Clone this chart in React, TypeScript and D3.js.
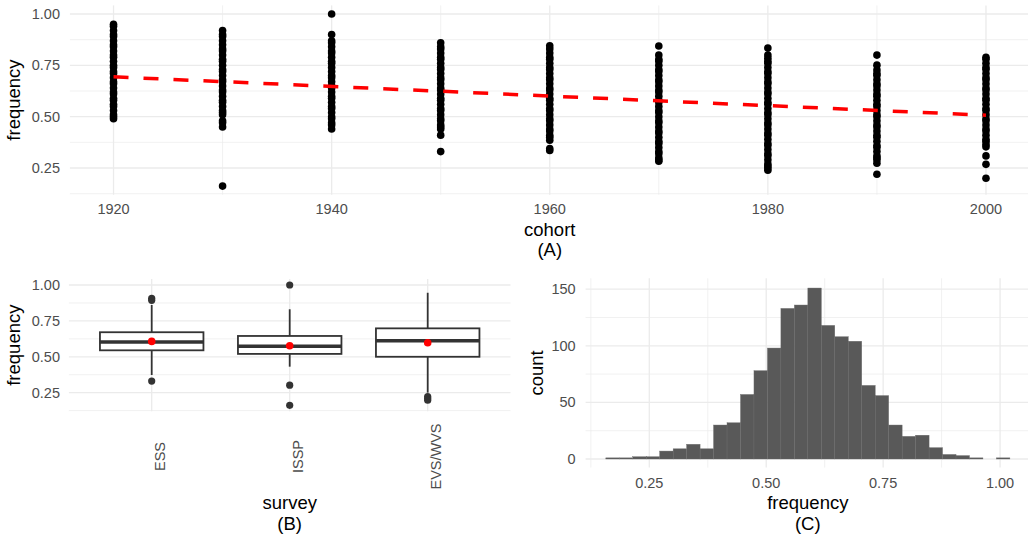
import React from 'react';
import * as d3 from 'd3';

// ---- Panel A: frequency by birth cohort ----
const cohorts = [1920, 1930, 1940, 1950, 1960, 1970, 1980, 1990, 2000];
const c1920 = [0.95, 0.94, 0.92, 0.90, 0.89, 0.87, 0.85, 0.84, 0.82, 0.80, 0.79, 0.77, 0.75, 0.74, 0.72, 0.71, 0.69, 0.67, 0.66, 0.64, 0.62, 0.61, 0.59, 0.58, 0.56, 0.55, 0.53, 0.51, 0.50, 0.49];
const c1930 = [0.92, 0.90, 0.89, 0.87, 0.85, 0.83, 0.82, 0.80, 0.78, 0.77, 0.75, 0.73, 0.72, 0.70, 0.68, 0.67, 0.65, 0.63, 0.62, 0.60, 0.58, 0.57, 0.55, 0.53, 0.52, 0.51, 0.48, 0.47, 0.45, 0.162];
const c1940 = [1.00, 0.90, 0.87, 0.86, 0.84, 0.82, 0.81, 0.79, 0.77, 0.76, 0.74, 0.72, 0.70, 0.69, 0.67, 0.65, 0.64, 0.62, 0.60, 0.59, 0.57, 0.55, 0.54, 0.52, 0.50, 0.49, 0.47, 0.46, 0.44];
const c1950 = [0.86, 0.84, 0.83, 0.81, 0.79, 0.78, 0.76, 0.74, 0.73, 0.71, 0.69, 0.68, 0.66, 0.64, 0.63, 0.61, 0.59, 0.58, 0.56, 0.54, 0.53, 0.51, 0.49, 0.48, 0.46, 0.45, 0.44, 0.41, 0.33];
const c1960 = [0.845, 0.83, 0.81, 0.79, 0.78, 0.76, 0.74, 0.73, 0.71, 0.69, 0.68, 0.66, 0.64, 0.63, 0.61, 0.59, 0.58, 0.56, 0.54, 0.53, 0.51, 0.49, 0.48, 0.46, 0.44, 0.43, 0.41, 0.40, 0.385, 0.345, 0.335];
const c1970 = [0.844, 0.80, 0.78, 0.77, 0.75, 0.73, 0.72, 0.70, 0.68, 0.67, 0.65, 0.63, 0.62, 0.60, 0.58, 0.57, 0.55, 0.53, 0.52, 0.50, 0.48, 0.47, 0.45, 0.43, 0.42, 0.40, 0.38, 0.37, 0.35, 0.33, 0.32, 0.30, 0.29, 0.283];
const c1980 = [0.834, 0.80, 0.785, 0.77, 0.76, 0.74, 0.72, 0.71, 0.69, 0.67, 0.66, 0.64, 0.62, 0.61, 0.59, 0.57, 0.56, 0.54, 0.52, 0.51, 0.49, 0.47, 0.46, 0.44, 0.42, 0.41, 0.39, 0.37, 0.36, 0.34, 0.32, 0.31, 0.29, 0.27, 0.26, 0.25, 0.239];
const c1990 = [0.80, 0.751, 0.727, 0.71, 0.70, 0.68, 0.66, 0.65, 0.63, 0.61, 0.60, 0.58, 0.56, 0.55, 0.53, 0.51, 0.50, 0.48, 0.46, 0.45, 0.43, 0.41, 0.40, 0.38, 0.36, 0.35, 0.33, 0.31, 0.30, 0.29, 0.273, 0.22];
const c2000 = [0.789, 0.78, 0.76, 0.74, 0.73, 0.71, 0.69, 0.68, 0.66, 0.64, 0.63, 0.61, 0.59, 0.58, 0.56, 0.54, 0.53, 0.51, 0.49, 0.48, 0.46, 0.44, 0.43, 0.41, 0.39, 0.38, 0.365, 0.353, 0.309, 0.268, 0.20];
const cohortValues = [c1920, c1930, c1940, c1950, c1960, c1970, c1980, c1990, c2000];

// linear fit through the cohort means
const trendCohorts = [1920, 2000];
const trendValues = [0.694, 0.507];

const cohortTicks = [1920, 1940, 1960, 1980, 2000];
const cohortMinorTicks = [1930, 1950, 1970, 1990];
const freqTicks = [0.25, 0.5, 0.75, 1.0];
const freqMinorTicks = [0.125, 0.375, 0.625, 0.875];

// ---- Panel B: frequency by survey programme ----
const surveys = ['ESS', 'ISSP', 'EVS/WVS'];
const boxLower = [0.373, 0.431, 0.25];
const boxQ1 = [0.545, 0.52, 0.50];
const boxMedian = [0.603, 0.573, 0.612];
const boxQ3 = [0.671, 0.645, 0.698];
const boxUpper = [0.861, 0.831, 0.946];
const boxMean = [0.607, 0.577, 0.598];
const boxOutliers = [
  [0.907, 0.893, 0.331],
  [1.0, 0.302, 0.162],
  [0.223, 0.21, 0.197],
];

// ---- Panel C: distribution of frequency ----
const histStart = 0.157;
const histBinWidth = 0.0288;
const histCounts = [1, 1, 2, 2, 7, 9, 13, 9, 30, 32, 57, 78, 98, 133, 136, 151, 118, 108, 104, 65, 56, 30, 20, 21, 10, 4, 3, 1, 0, 1];
const countTicks = [0, 50, 100, 150];
const countMinorTicks = [25, 75, 125];
const histFreqTicks = [0.25, 0.5, 0.75, 1.0];
const histFreqMinorTicks = [0.125, 0.375, 0.625, 0.875];

const FONT = '"Liberation Sans", Arial, Helvetica, sans-serif';
const GRID = '#EBEBEB';
const TICK = '#4D4D4D';
const TICK_SIZE = 14.5;
const TITLE_SIZE = 18.5;
const fmt2 = d3.format('.2f');

export default function App() {
  // scales
  const xA = d3.scaleLinear().domain([1916, 2004]).range([69.9, 1029.6]);
  const yA = d3.scaleLinear().domain([0.1201, 1.0419]).range([194.7, 5.4]);

  const xB = d3.scalePoint<string>().domain(surveys).range([68.9, 510.5]).padding(0.6);
  const yB = d3.scaleLinear().domain([0.1201, 1.0419]).range([411.3, 279]);
  const boxW = xB.step() * 0.75;

  const xC = d3.scaleLinear().domain([0.1138, 1.064]).range([585.6, 1030]);
  const yC = d3.scaleLinear().domain([-7.6, 159.6]).range([467.6, 278.3]);

  const trendLine = d3
    .line<number>()
    .x((_, i) => xA(trendCohorts[i]))
    .y((d) => yA(d));

  const [a0, a1] = xA.range();
  const [aB, aT] = yA.range();
  const [b0, b1] = xB.range();
  const [bB, bT] = yB.range();
  const [c0, c1] = xC.range();
  const [cB, cT] = yC.range();

  return (
    <svg
      width={1028}
      height={538}
      style={{ position: 'absolute', left: 0, top: 0, background: '#fff' }}
      fontFamily={FONT}
    >
      <rect width={1028} height={538} fill="#fff" />

      {/* ===== Panel A ===== */}
      <g>
        {freqMinorTicks.map((t) => (
          <line key={'am' + t} x1={a0} x2={a1} y1={yA(t)} y2={yA(t)} stroke={GRID} strokeWidth={0.7} />
        ))}
        {cohortMinorTicks.map((t) => (
          <line key={'avm' + t} x1={xA(t)} x2={xA(t)} y1={aB} y2={aT} stroke={GRID} strokeWidth={0.7} />
        ))}
        {freqTicks.map((t) => (
          <line key={'aM' + t} x1={a0} x2={a1} y1={yA(t)} y2={yA(t)} stroke={GRID} strokeWidth={1.3} />
        ))}
        {cohortTicks.map((t) => (
          <line key={'avM' + t} x1={xA(t)} x2={xA(t)} y1={aB} y2={aT} stroke={GRID} strokeWidth={1.3} />
        ))}

        {cohorts.map((c, i) =>
          cohortValues[i].map((v, j) => (
            <circle key={c + '-' + j} cx={xA(c)} cy={yA(v)} r={3.8} fill="#000" />
          ))
        )}

        <path
          d={trendLine(trendValues) || ''}
          fill="none"
          stroke="#FF0000"
          strokeWidth={3.5}
          strokeDasharray="15 15"
        />

        {freqTicks.map((t) => (
          <text key={'ayl' + t} x={60} y={yA(t)} textAnchor="end" dominantBaseline="central" fontSize={TICK_SIZE} fill={TICK}>
            {fmt2(t)}
          </text>
        ))}
        {cohortTicks.map((t) => (
          <text key={'axl' + t} x={xA(t)} y={213.5} textAnchor="middle" fontSize={TICK_SIZE} fill={TICK}>
            {t}
          </text>
        ))}
        <text x={(a0 + a1) / 2} y={236} textAnchor="middle" fontSize={TITLE_SIZE} fill="#000">
          cohort
        </text>
        <text x={(a0 + a1) / 2} y={256} textAnchor="middle" fontSize={TITLE_SIZE} fill="#000">
          (A)
        </text>
        <text
          transform={`translate(19.5,${(aB + aT) / 2}) rotate(-90)`}
          textAnchor="middle"
          fontSize={TITLE_SIZE}
          fill="#000"
        >
          frequency
        </text>
      </g>

      {/* ===== Panel B ===== */}
      <g>
        {freqMinorTicks.map((t) => (
          <line key={'bm' + t} x1={b0} x2={b1} y1={yB(t)} y2={yB(t)} stroke={GRID} strokeWidth={0.7} />
        ))}
        {freqTicks.map((t) => (
          <line key={'bM' + t} x1={b0} x2={b1} y1={yB(t)} y2={yB(t)} stroke={GRID} strokeWidth={1.3} />
        ))}
        {surveys.map((s) => (
          <line key={'bv' + s} x1={xB(s)} x2={xB(s)} y1={bB} y2={bT} stroke={GRID} strokeWidth={1.3} />
        ))}

        {surveys.map((s, i) => {
          const cx = xB(s) as number;
          return (
            <g key={'box' + s}>
              <line x1={cx} x2={cx} y1={yB(boxUpper[i])} y2={yB(boxQ3[i])} stroke="#333" strokeWidth={1.8} />
              <line x1={cx} x2={cx} y1={yB(boxQ1[i])} y2={yB(boxLower[i])} stroke="#333" strokeWidth={1.8} />
              <rect
                x={cx - boxW / 2}
                y={yB(boxQ3[i])}
                width={boxW}
                height={yB(boxQ1[i]) - yB(boxQ3[i])}
                fill="#fff"
                stroke="#333"
                strokeWidth={1.8}
              />
              <line
                x1={cx - boxW / 2}
                x2={cx + boxW / 2}
                y1={yB(boxMedian[i])}
                y2={yB(boxMedian[i])}
                stroke="#333"
                strokeWidth={3.6}
              />
              {boxOutliers[i].map((o, j) => (
                <circle key={j} cx={cx} cy={yB(o)} r={3.6} fill="#333" />
              ))}
              <circle cx={cx} cy={yB(boxMean[i])} r={3.8} fill="#FF0000" />
            </g>
          );
        })}

        {freqTicks.map((t) => (
          <text key={'byl' + t} x={60} y={yB(t)} textAnchor="end" dominantBaseline="central" fontSize={TICK_SIZE} fill={TICK}>
            {fmt2(t)}
          </text>
        ))}
        {surveys.map((s) => (
          <text
            key={'bxl' + s}
            transform={`translate(${(xB(s) as number) + 13},456.5) rotate(-90)`}
            textAnchor="middle"
            fontSize={TICK_SIZE}
            fill={TICK}
          >
            {s}
          </text>
        ))}
        <text x={(b0 + b1) / 2} y={509} textAnchor="middle" fontSize={TITLE_SIZE} fill="#000">
          survey
        </text>
        <text x={(b0 + b1) / 2} y={529.5} textAnchor="middle" fontSize={TITLE_SIZE} fill="#000">
          (B)
        </text>
        <text
          transform={`translate(19.5,${(bB + bT) / 2}) rotate(-90)`}
          textAnchor="middle"
          fontSize={TITLE_SIZE}
          fill="#000"
        >
          frequency
        </text>
      </g>

      {/* ===== Panel C ===== */}
      <g>
        {countMinorTicks.map((t) => (
          <line key={'cm' + t} x1={c0} x2={c1} y1={yC(t)} y2={yC(t)} stroke={GRID} strokeWidth={0.7} />
        ))}
        {histFreqMinorTicks.map((t) => (
          <line key={'cvm' + t} x1={xC(t)} x2={xC(t)} y1={cB} y2={cT} stroke={GRID} strokeWidth={0.7} />
        ))}
        {countTicks.map((t) => (
          <line key={'cM' + t} x1={c0} x2={c1} y1={yC(t)} y2={yC(t)} stroke={GRID} strokeWidth={1.3} />
        ))}
        {histFreqTicks.map((t) => (
          <line key={'cvM' + t} x1={xC(t)} x2={xC(t)} y1={cB} y2={cT} stroke={GRID} strokeWidth={1.3} />
        ))}

        {histCounts.map((n, i) => {
          const lo = histStart + i * histBinWidth;
          const hi = lo + histBinWidth;
          return (
            <rect
              key={'bar' + i}
              x={xC(lo)}
              y={yC(n)}
              width={xC(hi) - xC(lo)}
              height={yC(0) - yC(n)}
              fill="#595959"
              stroke="#6a6a6a"
              strokeWidth={0.4}
            />
          );
        })}

        {countTicks.map((t) => (
          <text key={'cyl' + t} x={575.7} y={yC(t)} textAnchor="end" dominantBaseline="central" fontSize={TICK_SIZE} fill={TICK}>
            {t}
          </text>
        ))}
        {histFreqTicks.map((t) => (
          <text key={'cxl' + t} x={xC(t)} y={488} textAnchor="middle" fontSize={TICK_SIZE} fill={TICK}>
            {fmt2(t)}
          </text>
        ))}
        <text x={(c0 + c1) / 2} y={509} textAnchor="middle" fontSize={TITLE_SIZE} fill="#000">
          frequency
        </text>
        <text x={(c0 + c1) / 2} y={529.5} textAnchor="middle" fontSize={TITLE_SIZE} fill="#000">
          (C)
        </text>
        <text
          transform={`translate(543.3,${(cB + cT) / 2}) rotate(-90)`}
          textAnchor="middle"
          fontSize={TITLE_SIZE}
          fill="#000"
        >
          count
        </text>
      </g>
    </svg>
  );
}
